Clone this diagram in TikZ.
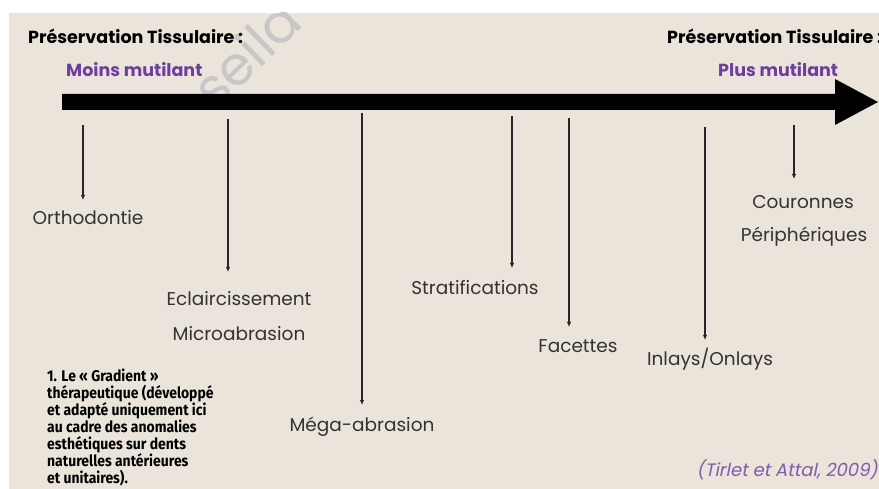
\documentclass[tikz,border=0pt]{standalone}
\usepackage{fontspec}
\setmainfont{Poppins}
\newfontfamily\notefont[FakeStretch=0.9]{Fira Sans}
\newfontfamily\citefont[FakeSlant=0.2]{Poppins}
\usetikzlibrary{arrows.meta, positioning}
\definecolor{bgbeige}{RGB}{234,228,218}
\definecolor{mutpurple}{RGB}{110,62,158}
\definecolor{citepurple}{RGB}{128,92,170}

\begin{document}
\begin{tikzpicture}[x=1pt, y=-1pt,
    lbl/.style={font=\fontsize{18.5}{22}\selectfont, text=black!80, inner sep=0pt},
    ttl/.style={font=\fontsize{17.5}{21}\selectfont\bfseries, inner sep=0pt, anchor=west},
    mut/.style={font=\fontsize{17.5}{21}\selectfont\bfseries, text=mutpurple, inner sep=0pt, anchor=west},
    tick/.style={line width=1.3pt, black!85, -{Latex[length=5pt,width=4.5pt]}}]
    \useasboundingbox (0,0) rectangle (879,489);
    \fill[bgbeige] (9,13) rectangle (879,489);

    % watermark
    \begin{scope}
        \clip (9,13) rectangle (879,489);
        \node[rotate=44, text=black!22, font=\fontsize{54}{54}\selectfont] (wm) at (246,54) {seila};
    \end{scope}

    \node[ttl] (presL) at (28,36) {Préservation Tissulaire :};
    \node[ttl] (presR) at (667,36) {Préservation Tissulaire :};
    \node[mut] (moins) at (66,70) {Moins mutilant};
    \node[mut] (plus) at (718,70) {Plus mutilant};

    % gradient arrow
    \fill[black] (62,94) -- (835,94) -- (835,79) -- (878,102) -- (835,125)
        -- (835,110) -- (62,110) -- cycle;

    \node[lbl] (orth) at (88,218) {Orthodontie};
    \node[lbl] (ecl) at (239,299) {Eclaircissement};
    \node[lbl] (micro) at (239,334) {Microabrasion};
    \node[lbl] (mega) at (362,427) {Méga-abrasion};
    \node[lbl] (strat) at (475,288) {Stratifications};
    \node[lbl] (fac) at (578,346) {Facettes};
    \node[lbl] (inl) at (710,359) {Inlays/Onlays};
    \node[lbl] (cour) at (803,202) {Couronnes};
    \node[lbl] (peri) at (804,237) {Périphériques};

    \coordinate (s1) at (83,125);  \coordinate (e1) at (83,200);
    \coordinate (s2) at (228,119); \coordinate (e2) at (228,272);
    \coordinate (s3) at (362,113); \coordinate (e3) at (362,405);
    \coordinate (s4) at (512,116); \coordinate (e4) at (512,268);
    \coordinate (s5) at (569,118); \coordinate (e5) at (569,327);
    \coordinate (s6) at (705,127); \coordinate (e6) at (705,340);
    \coordinate (s7) at (794,125); \coordinate (e7) at (794,179);
    \draw[tick] (s1) -- (e1);
    \draw[tick] (s2) -- (e2);
    \draw[tick] (s3) -- (e3);
    \draw[tick] (s4) -- (e4);
    \draw[tick] (s5) -- (e5);
    \draw[tick] (s6) -- (e6);
    \draw[tick] (s7) -- (e7);

    \node[anchor=north west, align=left, inner sep=0pt,
        font=\notefont\bfseries\fontsize{15.5}{17}\selectfont] (note) at (47,369)
        {1. Le « Gradient »\\thérapeutique (développé\\et adapté uniquement ici\\au cadre des anomalies\\esthétiques sur dents\\naturelles antérieures\\et unitaires).};

    \node[anchor=east, inner sep=0pt, text=citepurple,
        font=\citefont\fontsize{18}{21}\selectfont] (cite) at (878,470) {(Tirlet et Attal, 2009)};
\end{tikzpicture}
\end{document}
